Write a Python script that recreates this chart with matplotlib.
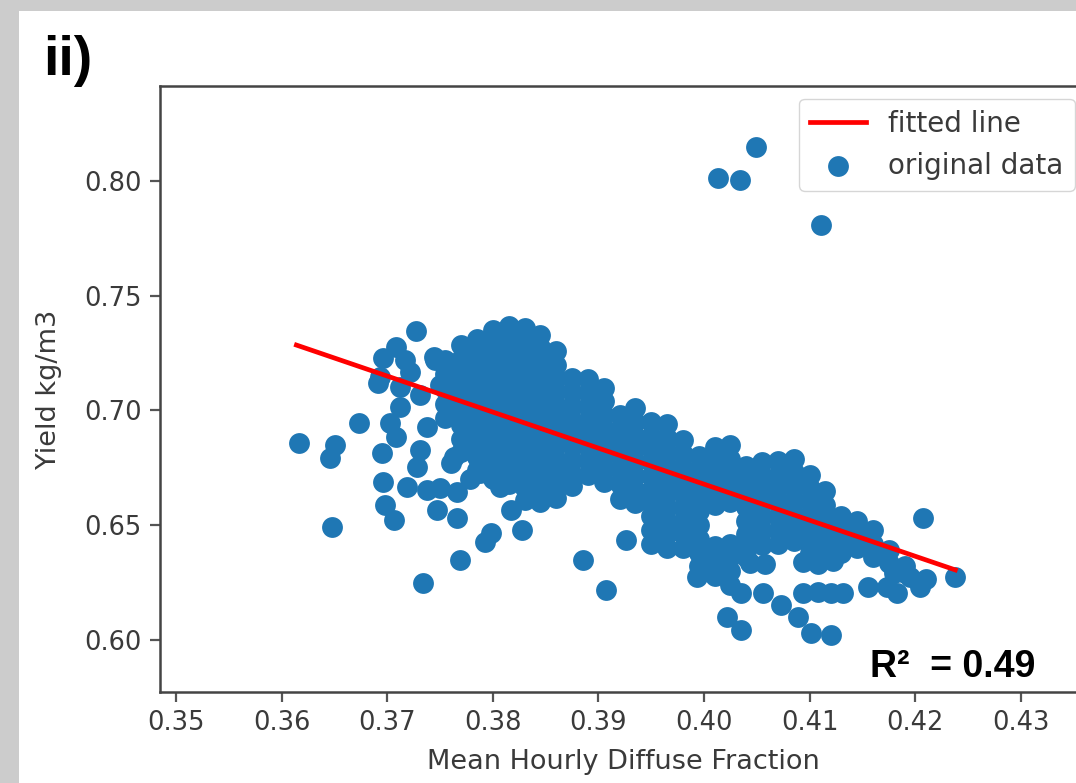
import numpy as np
import matplotlib
matplotlib.use("Agg")
import matplotlib.pyplot as plt
from matplotlib.patches import Rectangle

# diffuse fraction columns of the dense core, with the yields read in each column
core_x = [0.3755, 0.3770, 0.3785, 0.3800, 0.3815, 0.3830, 0.3845, 0.3860,
          0.3875, 0.3890, 0.3905, 0.3920, 0.3935, 0.3950, 0.3965, 0.3980,
          0.3995, 0.4010, 0.4025, 0.4040, 0.4055, 0.4070, 0.4085, 0.4100,
          0.4115, 0.4130, 0.4145, 0.4160, 0.4175, 0.4190]
core_y = [
    [0.7220, 0.7160, 0.7095, 0.7030, 0.6965],
    [0.7285, 0.7225, 0.7170, 0.7110, 0.7050, 0.6990, 0.6935, 0.6875, 0.6820],
    [0.7310, 0.7255, 0.7195, 0.7140, 0.7080, 0.7020, 0.6960, 0.6905, 0.6850, 0.6795, 0.6740],
    [0.7350, 0.7290, 0.7230, 0.7170, 0.7110, 0.7050, 0.6990, 0.6930, 0.6875, 0.6815, 0.6760, 0.6700],
    [0.7370, 0.7315, 0.7255, 0.7195, 0.7140, 0.7080, 0.7020, 0.6960, 0.6900, 0.6845, 0.6790, 0.6735, 0.6680],
    [0.7360, 0.7300, 0.7240, 0.7180, 0.7120, 0.7065, 0.7005, 0.6945, 0.6885, 0.6830, 0.6770, 0.6715, 0.6660, 0.6610],
    [0.7330, 0.7275, 0.7215, 0.7155, 0.7095, 0.7035, 0.6975, 0.6920, 0.6860, 0.6800, 0.6745, 0.6690, 0.6635, 0.6600],
    [0.7260, 0.7200, 0.7140, 0.7085, 0.7025, 0.6965, 0.6905, 0.6850, 0.6790, 0.6735, 0.6680, 0.6620],
    [0.7140, 0.7080, 0.7020, 0.6960, 0.6900, 0.6845, 0.6785, 0.6725, 0.6670],
    [0.7135, 0.7075, 0.7015, 0.6955, 0.6895, 0.6840, 0.6780, 0.6720],
    [0.7100, 0.7040, 0.6980, 0.6925, 0.6865, 0.6810, 0.6750, 0.6690],
    [0.6980, 0.6920, 0.6860, 0.6800, 0.6740, 0.6680, 0.6615],
    [0.7010, 0.6950, 0.6890, 0.6830, 0.6775, 0.6715, 0.6655, 0.6595],
    [0.6950, 0.6890, 0.6835, 0.6775, 0.6715, 0.6655, 0.6595, 0.6540, 0.6480, 0.6420],
    [0.6940, 0.6880, 0.6820, 0.6760, 0.6700, 0.6640, 0.6580, 0.6520, 0.6460, 0.6400],
    [0.6870, 0.6810, 0.6750, 0.6690, 0.6635, 0.6575, 0.6515, 0.6460, 0.6400],
    [0.6800, 0.6740, 0.6680, 0.6620, 0.6560, 0.6500, 0.6440, 0.6380, 0.6320],
    [0.6840, 0.6780, 0.6720, 0.6655, 0.6590, 0.6410, 0.6345, 0.6280],
    [0.6850, 0.6790, 0.6730, 0.6670, 0.6600, 0.6420, 0.6360, 0.6300, 0.6240],
    [0.6760, 0.6700, 0.6640, 0.6580, 0.6520, 0.6460, 0.6400, 0.6360],
    [0.6776, 0.6715, 0.6655, 0.6595, 0.6535, 0.6475, 0.6415],
    [0.6780, 0.6720, 0.6660, 0.6600, 0.6540, 0.6480, 0.6420],
    [0.6790, 0.6730, 0.6670, 0.6610, 0.6550, 0.6490, 0.6430],
    [0.6720, 0.6660, 0.6600, 0.6540, 0.6480, 0.6420, 0.6380],
    [0.6650, 0.6590, 0.6530, 0.6470, 0.6410],
    [0.6540, 0.6480, 0.6420, 0.6380],
    [0.6520, 0.6460, 0.6400],
    [0.6480, 0.6420, 0.6360],
    [0.6390, 0.6335],
    [0.6320, 0.6290],
]

# scattered points around the core
edge_pts = [
    (0.3616, 0.6858), (0.3648, 0.6492), (0.3646, 0.6793), (0.3651, 0.6850),
    (0.3673, 0.6946), (0.3727, 0.7346), (0.3708, 0.7277), (0.3696, 0.7229),
    (0.3693, 0.7146), (0.3691, 0.7120), (0.3703, 0.6946), (0.3708, 0.6885),
    (0.3695, 0.6815), (0.3696, 0.6688), (0.3719, 0.6667), (0.3698, 0.6588),
    (0.3706, 0.6523), (0.3731, 0.6828), (0.3728, 0.6754), (0.3738, 0.6928),
    (0.3738, 0.6654), (0.3750, 0.6662), (0.3766, 0.6645), (0.3747, 0.6566),
    (0.3766, 0.6532), (0.3734, 0.6248), (0.3769, 0.6349), (0.3798, 0.6466),
    (0.3793, 0.6427), (0.3788, 0.6728), (0.3778, 0.6700), (0.3807, 0.6667),
    (0.3817, 0.6566), (0.3763, 0.6797), (0.3760, 0.6771), (0.3712, 0.7015),
    (0.3712, 0.7102), (0.3744, 0.7233), (0.3722, 0.7168), (0.3731, 0.7068),
    (0.3717, 0.7220), (0.3745, 0.7220), (0.3750, 0.7111), (0.3828, 0.6479),
    (0.3926, 0.6436), (0.3885, 0.6349), (0.3907, 0.6218), (0.3993, 0.6275),
    (0.4022, 0.6100), (0.4035, 0.6044), (0.4056, 0.6205), (0.4073, 0.6153),
    (0.4089, 0.6100), (0.4101, 0.6031), (0.4120, 0.6022), (0.4094, 0.6205),
    (0.4108, 0.6210), (0.4120, 0.6205), (0.4132, 0.6205), (0.4035, 0.6205),
    (0.4094, 0.6340), (0.4108, 0.6330), (0.4122, 0.6345), (0.4044, 0.6336),
    (0.4058, 0.6330), (0.4155, 0.6231), (0.4173, 0.6231), (0.4183, 0.6205),
    (0.4205, 0.6231), (0.4180, 0.6290), (0.4195, 0.6275), (0.4210, 0.6265),
    (0.4207, 0.6532), (0.4238, 0.6274),
]

# high-yield outliers
high_x = [0.4013, 0.4034, 0.4049, 0.4111]
high_y = [0.8013, 0.8004, 0.8148, 0.7808]

# fitted line ends
fit_x = [0.3614, 0.4238]
fit_y = [0.7285, 0.6305]
r2 = 0.49

xticks = [0.35, 0.36, 0.37, 0.38, 0.39, 0.40, 0.41, 0.42, 0.43]
yticks = [0.60, 0.65, 0.70, 0.75, 0.80]

xs = [cx for cx, col in zip(core_x, core_y) for _ in col]
ys = [v for col in core_y for v in col]
xs += [p[0] for p in edge_pts] + high_x
ys += [p[1] for p in edge_pts] + high_y

fig = plt.figure(figsize=(10.76, 7.83), dpi=100, facecolor="#cccccc")
fig.patches.append(Rectangle((19 / 1076, 0), 1, 1 - 11 / 783, transform=fig.transFigure,
                             facecolor="white", edgecolor="none", zorder=-10))

ax = fig.add_axes([160 / 1076, 1 - 692 / 783, 927 / 1076, 606 / 783])
pts = ax.scatter(xs, ys, s=225, color="#1f77b4", linewidths=0, label="original data")
line, = ax.plot(fit_x, fit_y, color="red", lw=3.4, label="fitted line")

ax.set_xlim(0.34848, 0.43627)
ax.set_ylim(0.5773, 0.8414)
ax.set_xticks(xticks)
ax.set_yticks(yticks)
ax.set_xticklabels([f"{t:.2f}" for t in xticks])
ax.set_yticklabels([f"{t:.2f}" for t in yticks])

txt = "#3a3a3a"
ax.tick_params(labelsize=18.5, length=7, width=1.6, pad=6, colors="#555555", labelcolor=txt)
for s in ax.spines.values():
    s.set_linewidth(1.8)
    s.set_color("#444444")

ax.set_xlabel("Mean Hourly Diffuse Fraction", fontsize=19.5, color=txt)
ax.set_ylabel("Yield kg/m3", fontsize=19.5, color=txt)
ax.xaxis.set_label_coords(0.5, -0.094)
ax.yaxis.set_label_coords(-0.106, 0.5)

leg = ax.legend([line, pts], ["fitted line", "original data"], loc="upper right",
                fontsize=20, borderaxespad=0.45, scatterpoints=1)
for t in leg.get_texts():
    t.set_color(txt)

ax.text(0.766, 0.025, f"R\u00b2  = {r2:.2f}", transform=ax.transAxes, ha="left",
        va="baseline", fontsize=27, fontweight="bold", family="Liberation Sans", color="black")

fig.text(43 / 1076, 1 - 75 / 783, "ii)", fontsize=40, fontweight="bold",
         family="Liberation Sans", ha="left", va="baseline")

fig.savefig("out.png", dpi=100, facecolor=fig.get_facecolor())
